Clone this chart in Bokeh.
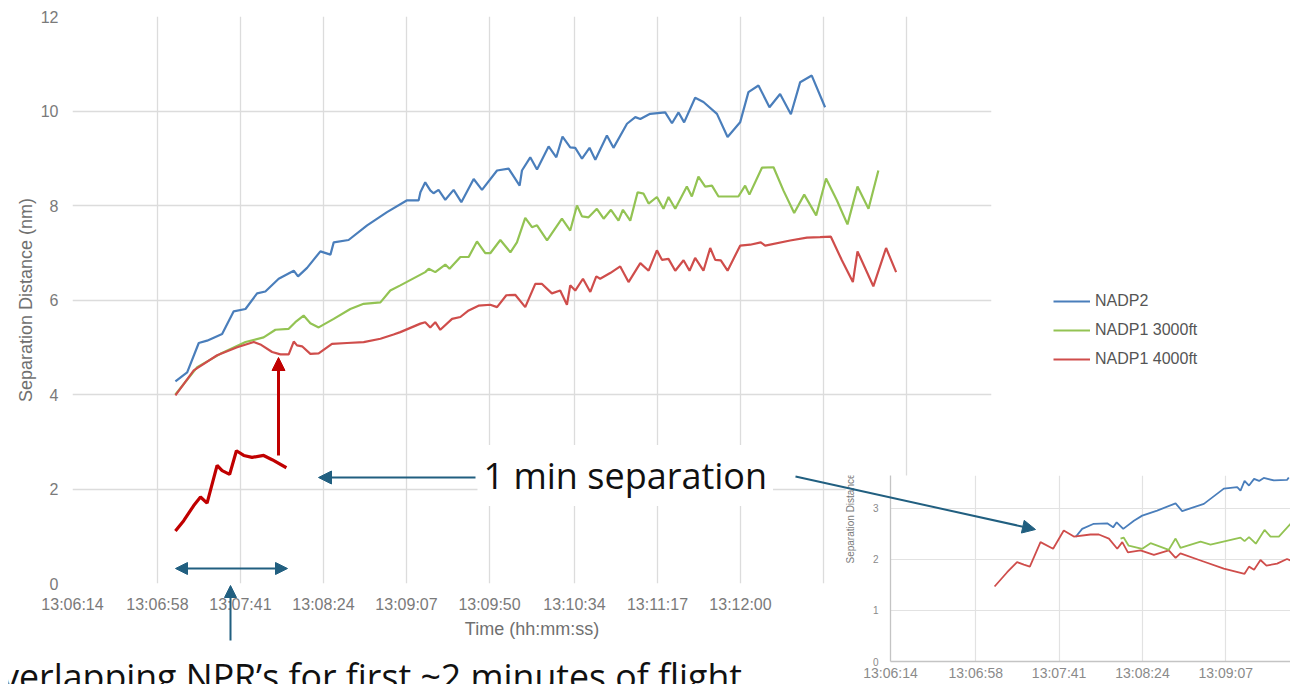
from math import pi as PI
from bokeh.plotting import figure
from bokeh.models import (Range1d, FixedTicker, Legend, LegendItem, Arrow,
                          NormalHead, Label)
from bokeh.embed import file_html
from bokeh.resources import INLINE

# ---------------- data (time = seconds after 13:06:14) ----------------
tick_labels = ["13:06:14", "13:06:58", "13:07:41", "13:08:24", "13:09:07",
               "13:09:50", "13:10:34", "13:11:17", "13:12:00"]
hidden_ticks = ["13:12:43", "13:13:26", "13:14:10"]
inset_tick_labels = ["13:06:14", "13:06:58", "13:07:41", "13:08:24", "13:09:07"]
y_ticks = [0, 2, 4, 6, 8, 10, 12]
inset_y_ticks = [0, 1, 2, 3]

series_names = ["NADP2", "NADP1 3000ft", "NADP1 4000ft"]

nadp2_t = [53.3, 59.4, 65.4, 69.7, 77.5, 83.5, 89.6, 95.6, 99.9, 106.8, 114.6, 116.8,
           121.5, 128.4, 133.6, 135.3, 143.0, 152.6, 162.9, 173.3, 179.3, 180.2, 182.7,
           185.3, 187.0, 189.6, 193.1, 197.4, 201.4, 207.8, 212.1, 219.9, 225.9, 231.6,
           232.8, 237.1, 240.6, 246.6, 250.6, 253.8, 257.8, 260.4, 263.9, 267.8, 270.8,
           276.8, 280.2, 287.2, 291.5, 294.1, 299.2, 307.0, 310.5, 313.9, 316.8, 322.5,
           326.8, 333.8, 339.3, 345.8, 350.1, 355.3, 361.0, 366.5, 372.1, 376.9, 382.9,
           389.8]
nadp2_v = [4.28, 4.47, 5.09, 5.14, 5.28, 5.76, 5.81, 6.14, 6.18, 6.45, 6.62, 6.50,
           6.68, 7.03, 6.96, 7.22, 7.27, 7.58, 7.86, 8.11, 8.11, 8.28, 8.49,
           8.32, 8.26, 8.33, 8.12, 8.33, 8.07, 8.56, 8.33, 8.74, 8.78, 8.42,
           8.74, 9.02, 8.76, 9.25, 9.02, 9.46, 9.23, 9.22, 8.99, 9.22, 8.97,
           9.48, 9.22, 9.73, 9.87, 9.83, 9.94, 9.97, 9.74, 9.97, 9.76, 10.28,
           10.19, 9.94, 9.45, 9.76, 10.40, 10.54, 10.08, 10.36, 9.93, 10.61, 10.75,
           10.08]

nadp1_3000_t = [53.3, 64.6, 76.6, 89.6, 99.0, 105.1, 112.0, 115.4, 119.7, 123.2, 127.5,
                135.3, 143.9, 150.8, 159.5, 164.6, 169.8, 182.7, 184.5, 187.9, 193.1,
                195.3, 200.9, 205.2, 209.5, 213.8, 216.4, 221.6, 226.8, 230.2, 234.5,
                238.0, 240.6, 245.8, 253.5, 257.8, 261.3, 263.9, 267.3, 271.6, 275.1,
                278.9, 282.8, 285.1, 288.9, 292.7, 295.8, 298.4, 302.7, 306.1, 308.7,
                312.2, 318.2, 320.8, 324.2, 327.7, 331.2, 334.6, 344.9, 348.4, 350.6,
                357.1, 363.1, 368.2, 373.8, 379.0, 385.2, 390.3, 395.9, 401.4, 406.6,
                412.3, 417.4]
nadp1_3000_v = [4.00, 4.58, 4.86, 5.11, 5.21, 5.37, 5.39, 5.53, 5.67, 5.51, 5.42,
                5.60, 5.81, 5.92, 5.95, 6.20, 6.31, 6.59, 6.66, 6.59, 6.75,
                6.66, 6.91, 6.91, 7.24, 6.99, 6.99, 7.27, 7.01, 7.22, 7.74,
                7.54, 7.58, 7.26, 7.72, 7.47, 8.00, 7.77, 7.75, 7.93, 7.72,
                7.91, 7.68, 7.91, 7.68, 8.28, 8.25, 8.04, 8.18, 7.93, 8.18,
                7.93, 8.40, 8.19, 8.61, 8.40, 8.42, 8.19, 8.19, 8.42, 8.23,
                8.80, 8.81, 8.32, 7.84, 8.23, 7.79, 8.57, 8.11, 7.60, 8.40,
                7.93, 8.74]

nadp1_4000_t = [53.3, 62.8, 74.9, 85.3, 93.9, 97.3, 103.4, 107.7, 112.0, 114.6, 116.3,
                118.9, 123.2, 127.5, 134.4, 142.2, 150.8, 159.5, 166.3, 169.8, 180.2,
                182.7, 185.3, 187.9, 190.5, 196.6, 200.9, 205.2, 210.3, 216.4, 219.9,
                224.7, 229.3, 234.5, 239.7, 243.2, 248.3, 252.6, 256.1, 257.8, 260.4,
                264.4, 268.2, 271.3, 273.3, 278.5, 283.7, 288.0, 294.1, 298.4, 302.7,
                305.3, 308.7, 312.2, 316.5, 319.6, 322.5, 326.8, 330.3, 332.9, 335.8,
                339.3, 345.8, 351.0, 356.5, 358.8, 371.7, 380.4, 387.2, 392.8, 398.5,
                404.2, 406.6, 414.8, 421.4, 426.6]
nadp1_4000_v = [3.98, 4.51, 4.83, 5.00, 5.11, 5.06, 4.90, 4.85, 4.85, 5.12, 5.04,
                5.02, 4.86, 4.87, 5.07, 5.09, 5.11, 5.18, 5.27, 5.32, 5.50,
                5.53, 5.42, 5.53, 5.37, 5.60, 5.64, 5.78, 5.88, 5.90, 5.85,
                6.10, 6.11, 5.85, 6.34, 6.34, 6.14, 6.20, 5.90, 6.31, 6.20,
                6.45, 6.17, 6.50, 6.45, 6.57, 6.71, 6.38, 6.78, 6.62, 7.05,
                6.85, 6.87, 6.62, 6.84, 6.62, 6.89, 6.62, 7.10, 6.85, 6.84,
                6.62, 7.15, 7.17, 7.22, 7.15, 7.26, 7.32, 7.33, 7.34, 6.84,
                6.38, 7.03, 6.29, 7.10, 6.59]

# overlapping-NPR trace (first ~2 minutes)
overlap_t = [53.3, 57.6, 62.8, 66.3, 69.7, 74.9, 77.5, 81.4, 84.9, 88.7, 93.0, 99.0,
             103.4, 110.8]
overlap_v = [1.11, 1.33, 1.65, 1.83, 1.70, 2.50, 2.39, 2.31, 2.81, 2.71, 2.67, 2.71,
             2.62, 2.45]

# inset: 1 min separation
inset_nadp2_t = [95.5, 98.9, 104.9, 111.8, 114.9, 116.7, 120.1, 125.6, 129.9, 137.6,
                 147.1, 150.5, 161.7, 172.0, 178.9, 180.6, 182.7, 185.0, 187.6, 190.2,
                 192.6, 197.8, 204.6, 205.5]
inset_nadp2_v = [2.44, 2.60, 2.70, 2.71, 2.63, 2.73, 2.60, 2.76, 2.86, 2.96,
                 3.10, 2.95, 3.09, 3.39, 3.42, 3.35, 3.54, 3.45, 3.58, 3.54,
                 3.60, 3.55, 3.56, 3.61]
inset_nadp1_3000_t = [118.7, 120.3, 122.9, 129.9, 134.2, 143.6, 147.1, 149.6, 160.0,
                      165.1, 180.6, 182.7, 185.0, 188.5, 193.0, 196.1, 200.4, 206.4,
                      210.5]
inset_nadp1_3000_v = [2.41, 2.43, 2.27, 2.21, 2.32, 2.19, 2.41, 2.23, 2.35,
                      2.29, 2.43, 2.36, 2.44, 2.31, 2.58, 2.45, 2.45, 2.70,
                      2.76]
inset_nadp1_4000_t = [53.7, 60.2, 65.3, 68.8, 71.9, 77.4, 83.9, 89.4, 94.6, 103.2,
                      107.5, 112.7, 117.0, 119.6, 122.5, 129.0, 135.9, 143.6, 147.1,
                      149.6, 160.0, 172.0, 182.7, 185.0, 187.6, 190.9, 194.0, 199.5,
                      204.6, 210.5]
inset_nadp1_4000_v = [1.47, 1.75, 1.95, 1.90, 1.86, 2.34, 2.21, 2.57, 2.45, 2.49,
                      2.49, 2.41, 2.21, 2.34, 2.14, 2.18, 2.09, 2.18, 2.03,
                      2.12, 1.98, 1.82, 1.72, 1.86, 1.80, 1.99, 1.88, 1.92,
                      2.01, 1.92]


def secs(label):
    h, m, s = (int(x) for x in label.split(":"))
    return (h * 3600 + m * 60 + s) - (13 * 3600 + 6 * 60 + 14)


BLUE = "#4a7ebb"
GREEN = "#93c353"
RED = "#cf4d4b"
DARKRED = "#c00000"
ARROW = "#215f80"
SANS = "Liberation Sans"
W, H = 1282, 676


def place(f, left, top):
    f.styles = {"position": "absolute", "left": f"{left}px", "top": f"{top}px"}


def layer(width, height, left, top):
    """transparent annotation layer whose frame is its whole canvas"""
    f = figure(width=width, height=height, title=None,
               x_range=Range1d(0, width), y_range=Range1d(height, 0),
               x_axis_location=None, y_axis_location=None,
               min_border=0, output_backend="svg", toolbar_location=None)
    f.outline_line_color = None
    f.background_fill_alpha = 0
    f.border_fill_alpha = 0
    f.grid.visible = False
    place(f, left, top)
    return f


# ---------------- main chart ----------------
main_ticks = [secs(t) for t in tick_labels + hidden_ticks]
overrides = {secs(t): t for t in tick_labels}
overrides.update({secs(t): "" for t in hidden_ticks})

p = figure(width=W, height=H, title=None,
           x_range=Range1d(0, main_ticks[-1]), y_range=Range1d(0, 12),
           output_backend="svg", toolbar_location=None,
           min_border_left=64, min_border_right=299,
           min_border_top=8, min_border_bottom=101)
p.outline_line_color = None
p.background_fill_color = "white"
p.border_fill_color = "white"

p.xaxis.ticker = FixedTicker(ticks=main_ticks)
p.xaxis.major_label_overrides = overrides
p.yaxis.ticker = FixedTicker(ticks=y_ticks)
p.xgrid.ticker = FixedTicker(ticks=main_ticks)
p.ygrid.ticker = FixedTicker(ticks=y_ticks)
for g in (p.xgrid, p.ygrid):
    g.grid_line_color = "#dcdcdc"
    g.grid_line_width = 1.3
for ax in (p.xaxis, p.yaxis):
    ax.axis_line_color = None
    ax.major_tick_line_color = None
    ax.minor_tick_line_color = None
    ax.major_tick_out = 0
    ax.major_tick_in = 0
    ax.minor_tick_out = 0
    ax.major_label_text_font = SANS
    ax.major_label_text_font_size = "16px"
    ax.major_label_text_color = "#7a7a7a"
    ax.axis_label_text_font = SANS
    ax.axis_label_text_font_size = "18px"
    ax.axis_label_text_font_style = "normal"
    ax.axis_label_text_color = "#707070"
p.xaxis.axis_label = "Time (hh:mm:ss)"
p.yaxis.axis_label = "Separation Distance (nm)"
p.xaxis.major_label_standoff = 12
p.xaxis.axis_label_standoff = 3
p.yaxis.major_label_standoff = 14
p.yaxis.axis_label_standoff = 2

p.line(nadp2_t, nadp2_v, line_color=BLUE, line_width=2.2)
p.line(nadp1_3000_t, nadp1_3000_v, line_color=GREEN, line_width=2.2)
p.line(nadp1_4000_t, nadp1_4000_v, line_color=RED, line_width=2.2)
p.line(overlap_t, overlap_v, line_color=DARKRED, line_width=3.2)
place(p, 8, 8)

# ---------------- inset chart ----------------
inset_ticks = [secs(t) for t in inset_tick_labels]
q = figure(width=445, height=209, title=None,
           x_range=Range1d(0, 206.4), y_range=Range1d(0, 3.647),
           output_backend="svg", toolbar_location=None,
           min_border_left=45, min_border_right=0,
           min_border_top=0, min_border_bottom=23)
q.outline_line_color = None
q.border_fill_color = "white"
q.xaxis.ticker = FixedTicker(ticks=inset_ticks)
q.xaxis.major_label_overrides = {secs(t): t for t in inset_tick_labels}
q.yaxis.ticker = FixedTicker(ticks=inset_y_ticks)
q.xgrid.ticker = FixedTicker(ticks=inset_ticks[1:])
q.ygrid.ticker = FixedTicker(ticks=inset_y_ticks[1:])
for g in (q.xgrid, q.ygrid):
    g.grid_line_color = "#e2e2e2"
    g.grid_line_width = 1.2
for ax in (q.xaxis, q.yaxis):
    ax.axis_line_color = "#c4c4c4"
    ax.axis_line_width = 1.3
    ax.major_tick_line_color = None
    ax.minor_tick_line_color = None
    ax.major_tick_out = 0
    ax.major_tick_in = 0
    ax.minor_tick_out = 0
    ax.major_label_text_font = SANS
    ax.major_label_text_color = "#8a8a8a"
q.xaxis.major_label_text_font_size = "14px"
q.yaxis.major_label_text_font_size = "10px"
q.xaxis.major_label_standoff = 3
q.yaxis.major_label_standoff = 12

q.line(inset_nadp2_t, inset_nadp2_v, line_color=BLUE, line_width=1.8)
q.line(inset_nadp1_4000_t, inset_nadp1_4000_v, line_color=RED, line_width=1.8)
q.line(inset_nadp1_3000_t, inset_nadp1_3000_v, line_color=GREEN, line_width=1.8)
place(q, 845, 475)

# inset y title strip (clipped at the inset's top edge)
s = layer(45, 209, 845, 475)
s.add_layout(Label(x=5, y=88, text="Separation Distance (nm)", angle=PI / 2,
                   text_align="left", text_baseline="middle",
                   text_font=SANS, text_font_size="10px", text_color="#7a7a7a"))

# ---------------- annotation overlay (pixel coordinates) ----------------
o = layer(W, H, 8, 8)
nan = float("nan")
lb = o.line([nan], [nan], line_color=BLUE, line_width=2.2)
lg = o.line([nan], [nan], line_color=GREEN, line_width=2.2)
lr = o.line([nan], [nan], line_color=RED, line_width=2.2)
legend = Legend(items=[LegendItem(label=series_names[0], renderers=[lb]),
                       LegendItem(label=series_names[1], renderers=[lg]),
                       LegendItem(label=series_names[2], renderers=[lr])],
                location=(1045, 315), padding=0, margin=0, spacing=9,
                glyph_width=37, glyph_height=20, label_height=20,
                label_standoff=5, border_line_color=None,
                background_fill_alpha=0,
                label_text_font=SANS, label_text_font_size="16px",
                label_text_color="#555555")
o.add_layout(legend, "center")

o.add_layout(Arrow(x_start=270, y_start=447, x_end=270, y_end=349,
                   line_color=DARKRED, line_width=3,
                   end=NormalHead(size=13, fill_color=DARKRED, line_color=DARKRED)))
o.add_layout(Arrow(x_start=467, y_start=469, x_end=310, y_end=469,
                   line_color=ARROW, line_width=2,
                   end=NormalHead(size=13, fill_color=ARROW, line_color=ARROW)))
o.add_layout(Arrow(x_start=167, y_start=560, x_end=279, y_end=560,
                   line_color=ARROW, line_width=2,
                   start=NormalHead(size=12, fill_color=ARROW, line_color=ARROW),
                   end=NormalHead(size=12, fill_color=ARROW, line_color=ARROW)))
o.add_layout(Arrow(x_start=222, y_start=632, x_end=222, y_end=577,
                   line_color=ARROW, line_width=2,
                   end=NormalHead(size=12, fill_color=ARROW, line_color=ARROW)))
o.add_layout(Arrow(x_start=787, y_start=468, x_end=1027, y_end=521,
                   line_color=ARROW, line_width=2,
                   end=NormalHead(size=13, fill_color=ARROW, line_color=ARROW)))
o.add_layout(Label(x=469, y=467, text="1 min separation",
                   text_font="Open Sans", text_font_size="36px",
                   text_color="#111111", text_baseline="alphabetic",
                   background_fill_color="white", padding=6))
o.add_layout(Label(x=-35, y=667,
                   text="Overlapping NPR\u2019s for first ~2 minutes of flight",
                   text_font="Open Sans", text_font_size="35.7px",
                   text_color="#111111", text_baseline="alphabetic"))

# each figure is its own root, so their frames are not aligned to each other
open("out.html", "w").write(file_html([p, q, s, o], INLINE))
